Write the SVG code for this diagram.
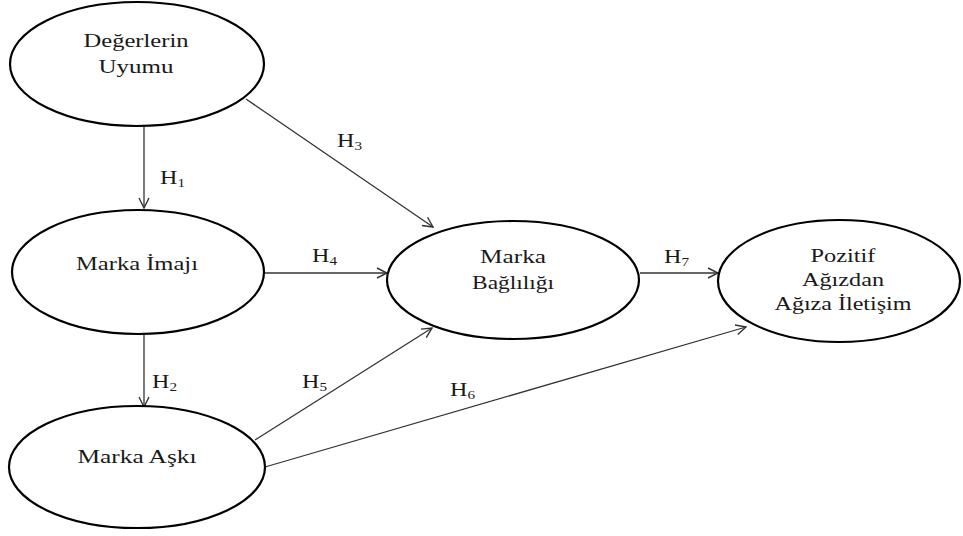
<svg xmlns="http://www.w3.org/2000/svg" width="963" height="536" viewBox="0 0 963 536">
<defs>
<marker id="arr" viewBox="0 0 12 12" refX="11" refY="6" markerWidth="12" markerHeight="12" markerUnits="userSpaceOnUse" orient="auto">
<path d="M1,1 L11,6 L1,11" fill="none" stroke="#333" stroke-width="1.4"/>
</marker>
<style>
.n ellipse{fill:#fff;stroke:#000;stroke-width:2.2}
.n text{text-anchor:middle}
.c line{stroke:#333;stroke-width:1.3;marker-end:url(#arr)}
</style>
</defs>
<g id="connectors" class="c">
<line x1="144" y1="127" x2="144" y2="208"/>
<line x1="144" y1="335" x2="144" y2="407"/>
<line x1="246" y1="99" x2="433" y2="227"/>
<line x1="265" y1="273" x2="387" y2="273"/>
<line x1="255" y1="440" x2="432" y2="328"/>
<line x1="265" y1="467" x2="746" y2="327"/>
<line x1="640" y1="273" x2="718" y2="273"/>
</g>
<g id="labels" font-family="'Liberation Serif', 'DejaVu Serif', serif" font-size="19" fill="#1a1a1a">
<text x="160" y="184" textLength="25" lengthAdjust="spacingAndGlyphs">H<tspan font-size="12" dy="3">1</tspan></text>
<text x="152" y="388" textLength="25" lengthAdjust="spacingAndGlyphs">H<tspan font-size="12" dy="3">2</tspan></text>
<text x="337" y="147" textLength="25" lengthAdjust="spacingAndGlyphs">H<tspan font-size="12" dy="3">3</tspan></text>
<text x="312" y="262" textLength="25" lengthAdjust="spacingAndGlyphs">H<tspan font-size="12" dy="3">4</tspan></text>
<text x="302" y="388" textLength="25" lengthAdjust="spacingAndGlyphs">H<tspan font-size="12" dy="3">5</tspan></text>
<text x="450" y="396" textLength="25" lengthAdjust="spacingAndGlyphs">H<tspan font-size="12" dy="3">6</tspan></text>
<text x="664" y="263" textLength="25" lengthAdjust="spacingAndGlyphs">H<tspan font-size="12" dy="3">7</tspan></text>
</g>
<g font-family="'Liberation Serif', 'DejaVu Serif', serif" font-size="19" fill="#1a1a1a">
<g id="n1" class="n"><ellipse cx="137" cy="64" rx="127" ry="62"/><text x="136" y="47" textLength="105" lengthAdjust="spacingAndGlyphs">Değerlerin</text><text x="136" y="73" textLength="75" lengthAdjust="spacingAndGlyphs">Uyumu</text></g>
<g id="n2" class="n"><ellipse cx="138" cy="272" rx="126" ry="62"/><text x="137" y="270" textLength="122" lengthAdjust="spacingAndGlyphs">Marka İmajı</text></g>
<g id="n3" class="n"><ellipse cx="137" cy="467" rx="128" ry="61"/><text x="137" y="463" textLength="119" lengthAdjust="spacingAndGlyphs">Marka Aşkı</text></g>
<g id="n4" class="n"><ellipse cx="513" cy="280" rx="126" ry="59"/><text x="513" y="263" textLength="66" lengthAdjust="spacingAndGlyphs">Marka</text><text x="513" y="289" textLength="82" lengthAdjust="spacingAndGlyphs">Bağlılığı</text></g>
<g id="n5" class="n"><ellipse cx="839" cy="281" rx="121" ry="61"/><text x="843" y="262" textLength="65" lengthAdjust="spacingAndGlyphs">Pozitif</text><text x="843" y="286" textLength="82" lengthAdjust="spacingAndGlyphs">Ağızdan</text><text x="843" y="310" textLength="137" lengthAdjust="spacingAndGlyphs">Ağıza İletişim</text></g>
</g>
</svg>
